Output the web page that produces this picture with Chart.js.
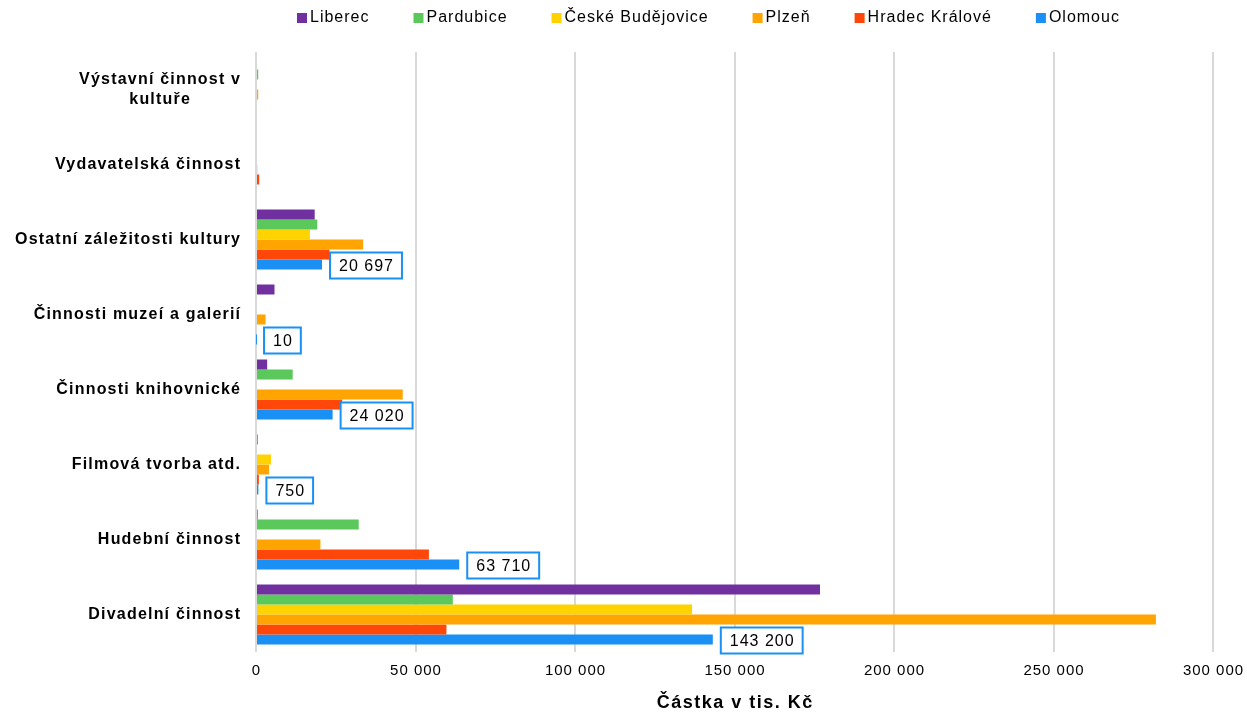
<!DOCTYPE html>
<html>
<head>
<meta charset="utf-8">
<script src="https://cdn.jsdelivr.net/npm/chart.js@4.4.1/dist/chart.umd.min.js"></script>
<style>
  html, body { margin: 0; padding: 0; background: #fff; }
  #wrap { width: 1247px; height: 714px; }
</style>
</head>
<body>
<div id="wrap"><canvas id="myChart" width="1247" height="714"></canvas></div>
<script>
// categories, top to bottom
const categories = [
  ["Výstavní činnost v", "kultuře"],
  "Vydavatelská činnost",
  "Ostatní záležitosti kultury",
  "Činnosti muzeí a galerií",
  "Činnosti knihovnické",
  "Filmová tvorba atd.",
  "Hudební činnost",
  "Divadelní činnost",
];
const liberec = [0, 0, 18400, 5800, 3500, 500, 500, 176800];
const pardubice = [700, 0, 19200, 0, 11500, 0, 32200, 61700];
const ceskeBudejovice = [0, 0, 16900, 0, 0, 4700, 0, 136700];
const plzen = [700, 400, 33600, 3000, 46000, 4100, 20200, 282100];
const hradecKralove = [0, 1000, 23000, 0, 27000, 900, 54200, 59700];
const olomouc = [null, null, 20697, 10, 24020, 750, 63710, 143200];
const xTicks = [0, 50000, 100000, 150000, 200000, 250000, 300000];
const xTitle = "Částka v tis. Kč";

const seriesNames = ["Liberec", "Pardubice", "České Budějovice", "Plzeň", "Hradec Králové", "Olomouc"];
const seriesColors = ["#7030A0", "#5BC85B", "#FFD300", "#FFA400", "#FF4709", "#1A90F5"];
const seriesData = [liberec, pardubice, ceskeBudejovice, plzen, hradecKralove, olomouc];

const FONT = "'Liberation Sans', Arial, sans-serif";

function fmt(v) {
  return String(v).replace(/\B(?=(\d{3})+(?!\d))/g, " ");
}

// text with letter spacing, like the excel export
function spacedText(ctx, txt, x, y, align, spacing) {
  ctx.letterSpacing = spacing + "px";
  const w = ctx.measureText(txt).width - spacing;
  let left = x;
  if (align === "center") left = x - w / 2;
  if (align === "right") left = x - w;
  ctx.textAlign = "left";
  ctx.fillText(txt, left, y);
  ctx.letterSpacing = "0px";
  return w;
}

// legend drawn by hand so spacing matches
const legendPlugin = {
  id: "customLegend",
  afterDraw(chart) {
    const ctx = chart.ctx;
    ctx.save();
    ctx.font = "16px " + FONT;
    ctx.textBaseline = "middle";
    let x = 297;
    const y = 18;
    seriesNames.forEach((name, i) => {
      ctx.fillStyle = seriesColors[i];
      ctx.fillRect(x, y - 5, 10, 10);
      ctx.fillStyle = "#000";
      const w = spacedText(ctx, name, x + 13, y, "left", 1);
      x += 13 + w + 45;
    });
    ctx.restore();
  },
};

// axis texts: category labels, x ticks, x title
const axisTextPlugin = {
  id: "axisTexts",
  afterDraw(chart) {
    const ctx = chart.ctx;
    const yScale = chart.scales.y;
    const xScale = chart.scales.x;
    ctx.save();
    ctx.fillStyle = "#000";
    ctx.textBaseline = "middle";

    ctx.font = "bold 16px " + FONT;
    const right = 240;
    categories.forEach((lab, i) => {
      const lines = Array.isArray(lab) ? lab : [lab];
      ctx.letterSpacing = "1.2px";
      const w = Math.max(...lines.map((l) => ctx.measureText(l).width - 1.2));
      ctx.letterSpacing = "0px";
      const cx = right - w / 2;
      const cy = yScale.getPixelForValue(i);
      lines.forEach((l, j) => {
        spacedText(ctx, l, cx, cy + (j - (lines.length - 1) / 2) * 20, "center", 1.2);
      });
    });

    ctx.font = "15px " + FONT;
    xTicks.forEach((v) => {
      spacedText(ctx, fmt(v), xScale.getPixelForValue(v), 671, "center", 1);
    });

    ctx.font = "bold 18px " + FONT;
    spacedText(ctx, xTitle, xScale.left + xScale.width / 2, 703, "center", 1.5);
    ctx.restore();
  },
};

// boxed value labels on the Olomouc series
const boxLabelPlugin = {
  id: "boxLabels",
  afterDatasetsDraw(chart) {
    const ctx = chart.ctx;
    const meta = chart.getDatasetMeta(5);
    ctx.save();
    ctx.font = "16px " + FONT;
    ctx.textBaseline = "middle";
    meta.data.forEach((bar, i) => {
      const v = olomouc[i];
      if (v === null) return;
      const txt = fmt(v);
      ctx.letterSpacing = "1px";
      const tw = ctx.measureText(txt).width - 1;
      ctx.letterSpacing = "0px";
      const w = tw + 18;
      const h = 26;
      const left = bar.x + 8;
      const top = bar.y - h / 2 + 1;
      ctx.fillStyle = "#fff";
      ctx.fillRect(left, top, w, h);
      ctx.strokeStyle = "#1A90F5";
      ctx.lineWidth = 2;
      ctx.strokeRect(left, top, w, h);
      ctx.fillStyle = "#000";
      spacedText(ctx, txt, left + 9, top + h / 2 + 1, "left", 1);
    });
    ctx.restore();
  },
};

const data = {
  labels: categories,
  datasets: seriesNames.map((name, i) => ({
    label: name,
    data: seriesData[i],
    backgroundColor: seriesColors[i],
    borderWidth: 0,
    categoryPercentage: 0.8,
    barPercentage: 1.0,
  })),
};

const config = {
  type: "bar",
  data: data,
  options: {
    indexAxis: "y",
    responsive: false,
    animation: false,
    layout: { padding: { top: 52, left: 0, right: 34, bottom: 0 } },
    plugins: {
      legend: { display: false },
      tooltip: { enabled: false },
    },
    scales: {
      x: {
        min: 0,
        max: 300000,
        afterBuildTicks: (scale) => {
          scale.ticks = xTicks.map((v) => ({ value: v }));
        },
        afterFit: (scale) => {
          scale.height = 62;
        },
        grid: { color: "#D9D9D9", lineWidth: 2, drawTicks: false },
        border: { display: false },
        ticks: { display: false },
      },
      y: {
        afterFit: (scale) => {
          scale.width = 256;
        },
        grid: { display: false, drawTicks: false },
        border: { display: false },
        ticks: { display: false },
      },
    },
  },
  plugins: [legendPlugin, axisTextPlugin, boxLabelPlugin],
};

const myChart = new Chart(document.getElementById("myChart"), config);
</script>
</body>
</html>
